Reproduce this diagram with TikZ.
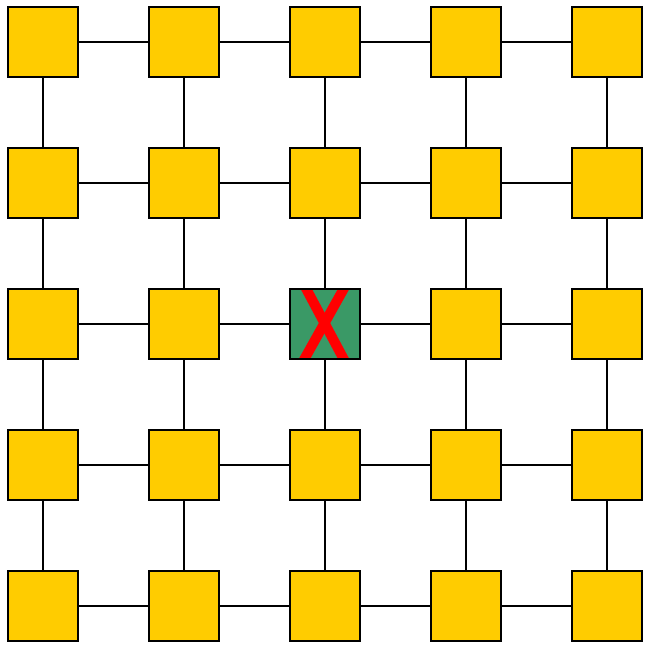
\documentclass[tikz,border=0pt]{standalone}
\usepackage{xcolor}
\usepackage{tikz}
\usetikzlibrary{positioning}

\definecolor{cellyellow}{HTML}{FFCC00}
\definecolor{cellgreen}{HTML}{3A9966}
\definecolor{crossred}{HTML}{FF0000}

\begin{document}
\begin{tikzpicture}[
    cell/.style={
        rectangle, draw=black, line width=1.2pt,
        fill=cellyellow,
        minimum size=1.4cm, inner sep=0pt, outer sep=0pt
    },
    failed/.style={
        cell, fill=cellgreen,
        path picture={
            \draw[crossred, line width=0.2cm]
                ([shift={(-0.40,0.75)}]path picture bounding box.center) --
                ([shift={(0.40,-0.75)}]path picture bounding box.center);
            \draw[crossred, line width=0.2cm]
                ([shift={(0.40,0.75)}]path picture bounding box.center) --
                ([shift={(-0.44,-0.75)}]path picture bounding box.center);
        }
    },
    link/.style={draw=black, line width=1.2pt},
]

\useasboundingbox (0,0) rectangle (12.9,-12.92);

% Riga 1
\node[cell] (n11) at (0.86,-0.84)  {};
\node[cell, right=1.42cm of n11] (n12) {};
\node[cell, right=1.42cm of n12] (n13) {};
\node[cell, right=1.42cm of n13] (n14) {};
\node[cell, right=1.42cm of n14] (n15) {};

% Riga 2
\node[cell, below=1.42cm of n11] (n21) {};
\node[cell, right=1.42cm of n21] (n22) {};
\node[cell, right=1.42cm of n22] (n23) {};
\node[cell, right=1.42cm of n23] (n24) {};
\node[cell, right=1.42cm of n24] (n25) {};

% Riga 3 (nodo guasto al centro)
\node[cell, below=1.42cm of n21] (n31) {};
\node[cell, right=1.42cm of n31] (n32) {};
\node[failed, right=1.42cm of n32] (n33) {};
\node[cell, right=1.42cm of n33] (n34) {};
\node[cell, right=1.42cm of n34] (n35) {};

% Riga 4
\node[cell, below=1.42cm of n31] (n41) {};
\node[cell, right=1.42cm of n41] (n42) {};
\node[cell, right=1.42cm of n42] (n43) {};
\node[cell, right=1.42cm of n43] (n44) {};
\node[cell, right=1.42cm of n44] (n45) {};

% Riga 5
\node[cell, below=1.42cm of n41] (n51) {};
\node[cell, right=1.42cm of n51] (n52) {};
\node[cell, right=1.42cm of n52] (n53) {};
\node[cell, right=1.42cm of n53] (n54) {};
\node[cell, right=1.42cm of n54] (n55) {};

% Collegamenti orizzontali
\foreach \r in {1,...,5}
    \foreach \c/\d in {1/2, 2/3, 3/4, 4/5}
        \draw[link] (n\r\c) -- (n\r\d);

% Collegamenti verticali
\foreach \c in {1,...,5}
    \foreach \r/\s in {1/2, 2/3, 3/4, 4/5}
        \draw[link] (n\r\c) -- (n\s\c);

\end{tikzpicture}
\end{document}
